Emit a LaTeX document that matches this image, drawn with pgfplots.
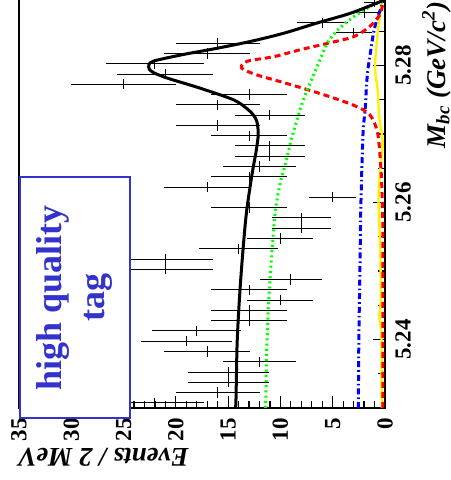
\documentclass[border=0pt]{standalone}
\usepackage{fontspec}
\setmainfont{Liberation Serif}
\usepackage{pgfplots}
\pgfplotsset{compat=1.18}
\usepackage{pgfplotstable}
\definecolor{tagblue}{RGB}{51,51,204}

% M_bc bin centre, events, errors (sqrt N, half bin width)
\pgfplotstableread{
m n en em
5.23075 22 4.690 0.00075
5.23225 16 4.000 0.00075
5.23375 15 3.873 0.00075
5.23525 15 3.873 0.00075
5.23675 12 3.464 0.00075
5.23825 17 4.123 0.00075
5.23975 19 4.359 0.00075
5.24125 18 4.243 0.00075
5.24275 13 3.606 0.00075
5.24425 13 3.606 0.00075
5.24575 10 3.162 0.00075
5.24725 13 3.606 0.00075
5.24875 9 3.000 0.00075
5.25025 21 4.583 0.00075
5.25175 21 4.583 0.00075
5.25325 14 3.742 0.00075
5.25475 10 3.162 0.00075
5.25625 8 2.828 0.00075
5.25775 8 2.828 0.00075
5.25925 13 3.606 0.00075
5.26075 5 2.236 0.00075
5.26225 17 4.123 0.00075
5.26375 13 3.606 0.00075
5.26525 12 3.464 0.00075
5.26675 11 3.317 0.00075
5.26825 11 3.317 0.00075
5.26975 13 3.606 0.00075
5.27125 16 4.000 0.00075
5.27275 11 3.317 0.00075
5.27425 16 4.000 0.00075
5.27575 13 3.606 0.00075
5.27725 25 5.000 0.00075
5.27875 21 4.583 0.00075
5.28025 22 4.690 0.00075
5.28175 17 4.123 0.00075
5.28325 16 4.000 0.00075
5.28475 3 1.732 0.00075
5.28625 6 2.449 0.00075
5.28775 2 1.414 0.00075
5.28925 1 1.000 0.00075
}\mbcdata

\begin{document}
\begin{tikzpicture}
\begin{axis}[
  name=ax,
  scale only axis, width=183pt, height=205.5pt,
  x dir=reverse,
  xmin=0, xmax=35, ymin=5.23, ymax=5.29,
  xtick={0,5,...,35}, minor xtick={0,1,...,35},
  ytick={5.24,5.26,5.28}, minor ytick={5.23,5.235,...,5.29},
  xtick pos=left, ytick pos=right, yticklabel pos=right,
  tick align=inside,
  major tick length=6pt, minor tick length=3.5pt,
  axis line style={line width=1pt},
  tick style={black, line width=0.6pt},
  /pgf/number format/assume math mode=true,
  xticklabel style={rotate=90, anchor=east, inner xsep=5pt, inner ysep=0pt,
    font=\bfseries\fontsize{11.5}{12}\selectfont},
  yticklabel style={rotate=90, anchor=north, inner ysep=5pt, inner xsep=0pt,
    font=\bfseries\fontsize{11.5}{12}\selectfont,
    /pgf/number format/.cd, fixed, precision=2, fixed zerofill},
]
% data: error bars only
\addplot[draw=none, mark=none,
  error bars/.cd, x dir=both, x explicit, y dir=both, y explicit,
  error mark=none, error bar style={draw=black, solid, line width=0.5pt}]
  table[x=n, y=m, x error=en, y error=em] {\mbcdata};

% yellow component
\addplot[yellow, line width=1.2pt, smooth] coordinates {
(0.3,5.2300) (0.32,5.2323) (0.35,5.2409) (0.55,5.2433) (0.4,5.2458)
(0.45,5.2531) (0.62,5.2604) (0.45,5.2647) (0.22,5.2687) (0.55,5.2725)
(0.7,5.2764) (0.95,5.2798) (0.7,5.2847) (0.4,5.2881) (0.3,5.2893)};

% blue dash-dot
\addplot[blue, line width=1.5pt, smooth,
  dash pattern=on 3pt off 1.5pt on 0.8pt off 1.5pt] coordinates {
(2.55,5.2300) (2.5,5.2400) (2.4,5.2500) (2.3,5.2600) (2.1,5.2701)
(1.9,5.2735) (1.75,5.2775) (1.6,5.2798) (1.35,5.2823) (1.1,5.2847)
(0.8,5.2866) (0.45,5.2881) (0.2,5.2891) (0,5.2895)};

% red dashed signal
\addplot[red, line width=1.5pt, smooth, dash pattern=on 3pt off 2pt] coordinates {
(0.2,5.2300) (0.2,5.2550) (0.3,5.2620) (0.4,5.2652) (0.7,5.2701)
(1.45,5.2728) (3.0,5.2742) (6.2,5.2759) (9.45,5.2774) (12.2,5.2786)
(13.7,5.2796) (13.2,5.2806) (10.6,5.2813) (8.1,5.2823) (5.6,5.2832)
(3.0,5.2842) (1.45,5.2857) (0.5,5.2874) (0.2,5.2891)};

% green dotted continuum
\addplot[green, line width=1.5pt, smooth, dash pattern=on 1pt off 1.6pt] coordinates {
(11.45,5.2300) (11.4,5.2312) (11.3,5.2390) (11.0,5.2487) (10.5,5.2585)
(9.95,5.2633) (9.6,5.2652) (8.8,5.2701) (7.8,5.2750) (6.5,5.2798)
(5.5,5.2833) (4.5,5.2852) (3.0,5.2871) (1.45,5.2886) (0.5,5.2892) (0,5.2895)};

% total fit
\addplot[black, line width=1.5pt, smooth] coordinates {
(14.3,5.2300) (14.25,5.2312) (14.15,5.2390) (14.0,5.2439) (13.8,5.2487)
(13.55,5.2536) (13.25,5.2585) (12.75,5.2638) (12.3,5.2677) (12.12,5.2700)
(12.25,5.2718) (12.6,5.2728) (13.2,5.2737) (14.5,5.2750) (17.7,5.2767)
(20.9,5.2782) (22.3,5.2791) (22.6,5.2798) (22.2,5.2806) (19.3,5.2816)
(16.1,5.2825) (12.9,5.2835) (9.7,5.2847) (6.5,5.2862) (3.35,5.2876)
(0.8,5.2891) (0,5.2896)};

\coordinate (tagc) at (axis cs:29.65,5.2461);
\end{axis}

\node[draw=tagblue, line width=1pt, fill=white, text=tagblue, rotate=90,
  minimum width=120.5pt, minimum height=55pt, inner sep=0pt, align=center,
  font=\bfseries\fontsize{18}{21.5}\selectfont] at (tagc) {high quality\\tag};

\node[rotate=180, anchor=base east, inner sep=0pt,
  font=\bfseries\itshape\fontsize{13.5}{16}\selectfont]
  at ([xshift=-0.5pt, yshift=-20pt]ax.south west) {Events / 2 MeV};

\node[rotate=90, anchor=base east, inner sep=0pt,
  font=\bfseries\itshape\fontsize{13.5}{16}\selectfont]
  at ([xshift=30pt, yshift=-2pt]ax.north east)
  {M\textsubscript{bc} (GeV/c\textsuperscript{2})};

\pgfresetboundingbox
\useasboundingbox ([xshift=-9.5pt,yshift=-36pt]ax.south west)
  rectangle ([xshift=33pt,yshift=-1.5pt]ax.north east);
\end{tikzpicture}
\end{document}
